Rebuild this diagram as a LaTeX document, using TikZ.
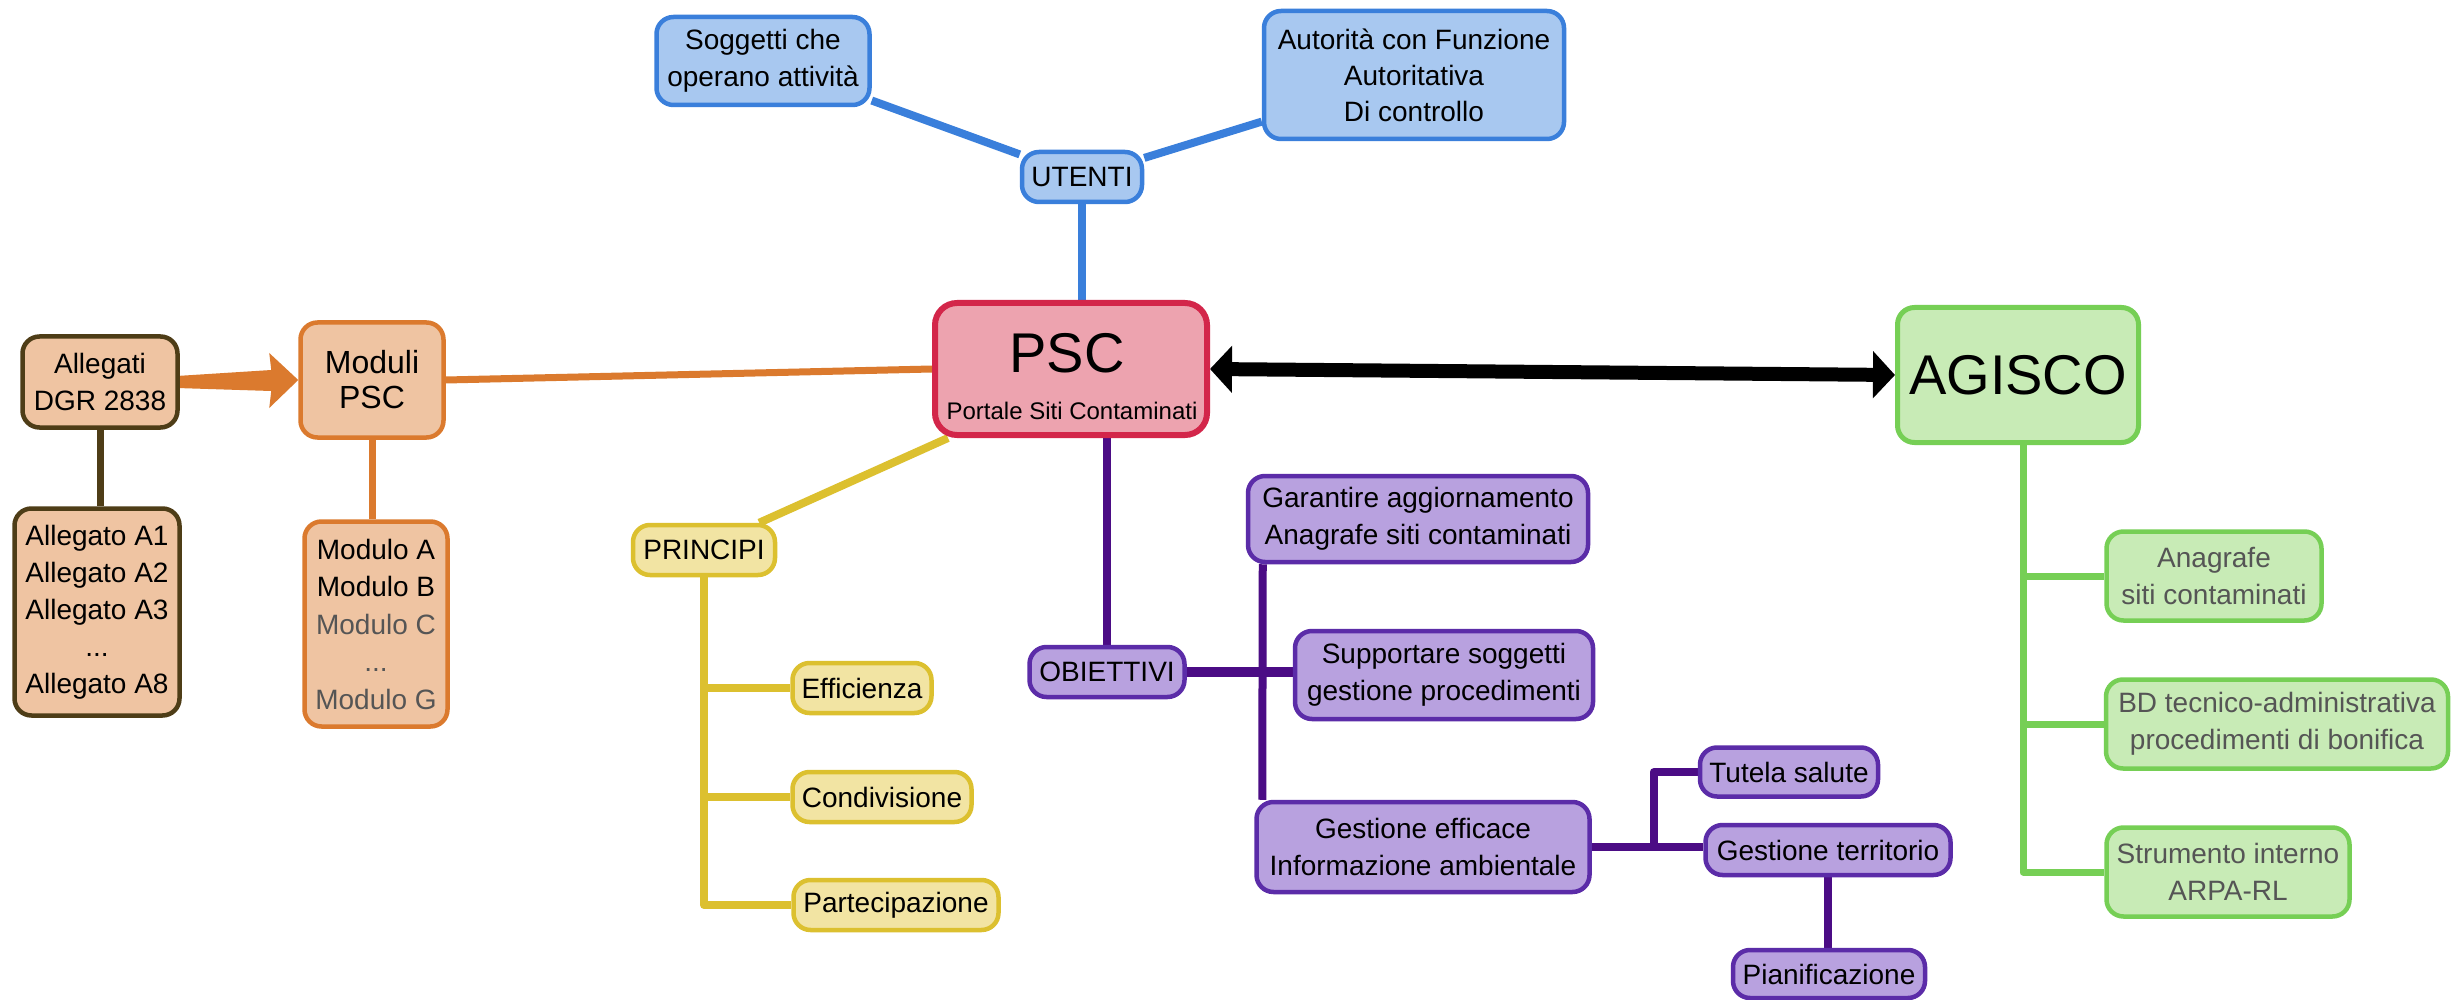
\documentclass[tikz,border=0pt]{standalone}
\usepackage{fontspec}
\setmainfont{Liberation Sans}
\usetikzlibrary{arrows.meta,calc}
\definecolor{orF}{HTML}{EFC4A2}
\definecolor{orB}{HTML}{DB7A2E}
\definecolor{brB}{HTML}{4E3D17}
\definecolor{blF}{HTML}{A8C8F0}
\definecolor{blB}{HTML}{3A7FDB}
\definecolor{pkF}{HTML}{EDA3AF}
\definecolor{pkB}{HTML}{D3264A}
\definecolor{yeF}{HTML}{F2E4A3}
\definecolor{yeB}{HTML}{DCC02F}
\definecolor{puF}{HTML}{B8A1DF}
\definecolor{puB}{HTML}{5B2CA8}
\definecolor{puL}{HTML}{4B0C85}
\definecolor{grF}{HTML}{C8EBB6}
\definecolor{grB}{HTML}{76CF55}
\definecolor{gtx}{HTML}{555555}
\pgfdeclarelayer{bg}
\pgfsetlayers{bg,main}
\tikzset{
  bx/.style={rounded corners=17pt, line width=4.5pt, align=center, inner sep=0pt,
    font=\fontsize{28}{37}\selectfont, text=black},
  orbox/.style={bx, draw=orB, fill=orF},
  brbox/.style={bx, draw=brB, fill=orF},
  blbox/.style={bx, draw=blB, fill=blF},
  pkbox/.style={bx, draw=pkB, fill=pkF, line width=6pt, rounded corners=22pt},
  yebox/.style={bx, draw=yeB, fill=yeF},
  pubox/.style={bx, draw=puB, fill=puF},
  grbox/.style={bx, draw=grB, fill=grF},
  conn/.style={line width=8pt, line join=round},
  blline/.style={conn, draw=blB},
  orline/.style={conn, draw=orB},
  brline/.style={conn, draw=brB, line width=7pt},
  yeline/.style={conn, draw=yeB},
  puline/.style={conn, draw=puL},
  grline/.style={conn, draw=grB, line width=7pt},
}
\begin{document}
\begin{tikzpicture}[x=1pt,y=-1pt]
\useasboundingbox (0,0) rectangle (2453,1000);

% left side
\node[brbox, minimum width=155pt, minimum height=91pt] (alleg) at (100,382) {Allegati\\DGR 2838};
\node[brbox, minimum width=165pt, minimum height=207pt] (allist) at (97,612)
  {Allegato A1\\Allegato A2\\Allegato A3\\...\\Allegato A8};
\node[orbox, minimum width=143pt, minimum height=115pt, font=\fontsize{32}{35}\selectfont] (moduli) at (372,380) {Moduli\\PSC};
\node[orbox, minimum width=143pt, minimum height=205pt, font=\fontsize{28}{37.5}\selectfont] (modlist) at (376,624)
  {Modulo A\\Modulo B\\\textcolor{gtx}{Modulo C}\\\textcolor{gtx}{...}\\\textcolor{gtx}{Modulo G}};

% centre
\node[pkbox, minimum width=272pt, minimum height=132pt] (psc) at (1071,369) {};
\node[anchor=base, inner sep=0pt, font=\fontsize{56}{56}\selectfont] (psctxt) at (1067,373) {PSC};
\node[anchor=base, inner sep=0pt, font=\fontsize{24}{24}\selectfont] (pscsub) at (1072,419) {Portale Siti Contaminati};

% utenti
\node[blbox, minimum width=120pt, minimum height=50pt] (utenti) at (1082,177) {UTENTI};
\node[blbox, minimum width=213pt, minimum height=88pt] (sogg) at (763,61) {Soggetti che\\operano attività};
\node[blbox, minimum width=300pt, minimum height=128pt, font=\fontsize{28}{36}\selectfont] (auto) at (1414,75)
  {Autorità con Funzione\\Autoritativa\\Di controllo};

% principi
\node[yebox, minimum width=142pt, minimum height=50pt] (principi) at (704,550) {PRINCIPI};
\node[yebox, minimum width=139pt, minimum height=50pt] (eff) at (862,688) {Efficienza};
\node[yebox, minimum width=179pt, minimum height=50pt] (cond) at (882,797) {Condivisione};
\node[yebox, minimum width=205pt, minimum height=50pt] (part) at (896,905) {Partecipazione};

% obiettivi
\node[pubox, minimum width=155pt, minimum height=50pt] (obiett) at (1107,672) {OBIETTIVI};
\node[pubox, minimum width=340pt, minimum height=86pt] (gar) at (1418,519) {Garantire aggiornamento\\Anagrafe siti contaminati};
\node[pubox, minimum width=298pt, minimum height=88pt] (supp) at (1444,675) {Supportare soggetti\\gestione procedimenti};
\node[pubox, minimum width=333pt, minimum height=90pt] (gest) at (1423,847) {Gestione efficace\\Informazione ambientale};
\node[pubox, minimum width=178pt, minimum height=49pt] (tut) at (1789,772) {Tutela salute};
\node[pubox, minimum width=245pt, minimum height=50pt] (gter) at (1828,850) {Gestione territorio};
\node[pubox, minimum width=192pt, minimum height=48pt] (pian) at (1829,974) {Pianificazione};

% agisco
\node[grbox, line width=5pt, minimum width=241pt, minimum height=135pt, font=\fontsize{56}{56}\selectfont] (agisco) at (2018,375) {AGISCO};
\node[grbox, minimum width=215pt, minimum height=89pt, text=gtx] (ag1) at (2214,576) {Anagrafe\\siti contaminati};
\node[grbox, minimum width=342pt, minimum height=89pt, text=gtx] (ag2) at (2277,724) {BD tecnico-administrativa\\procedimenti di bonifica};
\node[grbox, minimum width=243pt, minimum height=89pt, text=gtx] (ag3) at (2228,872) {Strumento interno\\ARPA-RL};

\begin{pgfonlayer}{bg}
  \fill[white] (0,0) rectangle (2453,1000);
  % left
  \draw[brline] (alleg.south) -- (alleg.south |- allist.north);
  \fill[orB] ($(alleg.east)+(-3,-6)$) -- ($(moduli.west)+(-27,-10)$) -- ($(moduli.west)+(-29,-27)$)
    -- (moduli.west) -- ($(moduli.west)+(-29,28)$) -- ($(moduli.west)+(-27,11)$)
    -- ($(alleg.east)+(-3,6)$) -- cycle;
  \draw[orline, line width=7pt] (moduli.south) -- (moduli.south |- modlist.north);
  \draw[orline, line width=7pt] (moduli.east) -- (psc.west);
  % utenti
  \draw[blline] (utenti.south) -- (utenti.south |- psc.north);
  \draw[blline] (sogg) -- (utenti);
  \draw[blline] (auto) -- (utenti);
  % principi
  \draw[yeline] ($(principi.north east)+(-18,0)$) -- ($(psc.south west)+(16,0)$);
  \draw[yeline] (principi.south) |- (eff.west);
  \draw[yeline] (principi.south) |- (cond.west);
  \draw[yeline] (principi.south) |- (part.west);
  % obiettivi
  \draw[puline] (obiett.north) -- (obiett.north |- psc.south);
  \draw[puline, line width=10pt] (obiett.east) -- (obiett.east -| supp.west);
  \draw[puline] ($(gar.south west)+(17,0)$) -- ($(gest.north west)+(8,0)$);
  \draw[puline] (gest.east) -- (gest.east -| gter.west);
  \draw[puline] (tut.west) -| ($(gest.east)+(62,0)$);
  \draw[puline] (gter.south) -- (gter.south |- pian.north);
  % agisco
  \draw[grline] ($(agisco.south)+(5,0)$) |- (ag1.west);
  \draw[grline] ($(agisco.south)+(5,0)$) |- (ag2.west);
  \draw[grline] ($(agisco.south)+(5,0)$) |- (ag3.west);
  \draw[black, line width=14pt, {Triangle[length=22pt,width=46pt]}-{Triangle[length=22pt,width=46pt]}] (psc.east) -- (agisco.west);
\end{pgfonlayer}
\end{tikzpicture}
\end{document}
